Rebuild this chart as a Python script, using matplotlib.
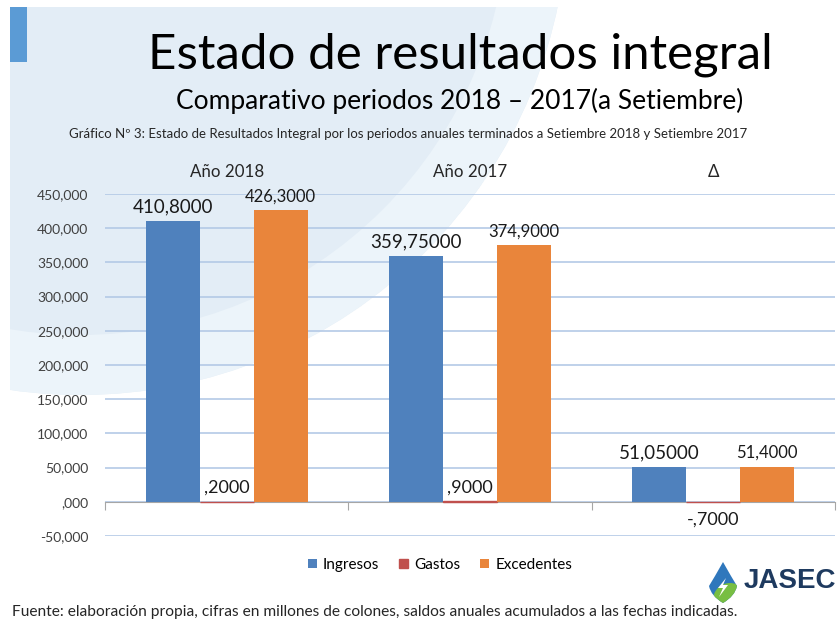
import numpy as np
import matplotlib
matplotlib.use('Agg')
import matplotlib.pyplot as plt
import matplotlib.patches as mpatches
from matplotlib.path import Path
from matplotlib.ticker import FuncFormatter, MultipleLocator

# data (montos, misma escala que el eje)
groups = ['Año 2018', 'Año 2017', 'Δ']
series = ['Ingresos', 'Gastos', 'Excedentes']
ingresos = [410800, 359750, 51050]
gastos = [200, 900, -700]
excedentes = [426300, 374900, 51400]

colors = ['#4F81BD', '#C0504D', '#E9853B']
title = 'Estado de resultados integral'
subtitle = 'Comparativo periodos 2018 – 2017(a Setiembre)'
caption = ('Gráfico Nº 3: Estado de Resultados Integral por los periodos anuales '
           'terminados a Setiembre 2018 y Setiembre 2017')
footnote = ('Fuente: elaboración propia, cifras en millones de colones, '
            'saldos anuales acumulados a las fechas indicadas.')

FONT = ['Lato', 'DejaVu Sans']


def label_fmt(v):
    # etiquetas tal como aparecen en la lámina original
    s = f"{v / 1000:g}".replace('.', ',')
    if abs(v) < 1000:
        s = s.replace('0', '', 1)
    return s + '000'


def ytick_fmt(v, _):
    if v == 0:
        return ',000'
    return f"{v:,.0f}"


W, H = 840, 623
fig = plt.figure(figsize=(W / 100, H / 100), dpi=100)

# fondo de la lámina
bg = fig.add_axes([0, 0, 1, 1], zorder=0)
bg.set_xlim(0, W)
bg.set_ylim(H, 0)
bg.axis('off')
clip = mpatches.Rectangle((10, 7), W, H, transform=bg.transData, visible=False)
bg.add_patch(clip)
circ = mpatches.Circle((80, -93), 488, color='#E3EDF6', lw=0)
bg.add_patch(circ)
circ.set_clip_path(clip)
band = mpatches.Wedge((80, -93), 488, 0, 180, width=60, color='#ECF4FA', lw=0)
bg.add_patch(band)
band.set_clip_path(clip)
bg.add_patch(mpatches.Rectangle((10, 7), 17, 55, color='#5B9BD5', lw=0))

# logo JASEC
drop = Path([(723, 562), (732, 578), (737, 586), (735, 596), (723, 603),
             (711, 596), (709, 586), (714, 578), (723, 562)],
            [Path.MOVETO, Path.CURVE3, Path.CURVE3, Path.CURVE3, Path.CURVE3,
             Path.CURVE3, Path.CURVE3, Path.CURVE3, Path.CURVE3])
dp = mpatches.PathPatch(drop, fc='#2F77BC', lw=0)
bg.add_patch(dp)
green = mpatches.Circle((730, 600), 17, fc='#78BE43', lw=0)
bg.add_patch(green)
green.set_clip_path(dp)
bg.add_patch(mpatches.Polygon([(726, 578), (718, 588), (723, 588), (719, 597),
                               (728, 585), (723, 585)], fc='white', lw=0))
bg.text(744, 581, 'JASEC', fontsize=20, fontweight='bold', color='#1E3A5F',
        family=['Liberation Sans', 'DejaVu Sans'], va='center', ha='left')

# textos de la lámina
fig.text(460 / W, 1 - 55 / H, title, fontsize=35.5, ha='center', va='center',
         family=FONT, color='black')
fig.text(460 / W, 1 - 101 / H, subtitle, fontsize=19, ha='center', va='center',
         family=FONT, color='black')
fig.text(408 / W, 1 - 134 / H, caption, fontsize=9.5, ha='center', va='center',
         family=FONT, color='#262626')
fig.text(12 / W, 1 - 612 / H, footnote, fontsize=11.2, ha='left', va='center',
         family=FONT, color='#262626')

# gráfico
ax = fig.add_axes([105 / W, 1 - 536 / H, 730 / W, 342 / H], zorder=2)
ax.patch.set_alpha(0)
x = np.arange(len(groups))
bw = 0.222
data = [ingresos, gastos, excedentes]
bars = []
for i, (vals, c, name) in enumerate(zip(data, colors, series)):
    edge = c if name == 'Gastos' else 'none'
    b = ax.bar(x + (i - 1) * bw, vals, bw, color=c, label=name, zorder=3,
               edgecolor=edge, linewidth=1.0)
    bars.append(b)

ax.set_xlim(-0.5, 2.5)
ax.set_ylim(-50000, 450000)
ax.yaxis.set_major_locator(MultipleLocator(50000))
ax.yaxis.set_major_formatter(FuncFormatter(ytick_fmt))
ax.grid(axis='y', color='#B4C9E6', lw=1.2, zorder=0)
ax.set_axisbelow(True)
for s in ['left', 'right', 'top']:
    ax.spines[s].set_visible(False)
ax.spines['bottom'].set_position(('data', 0))
ax.spines['bottom'].set_color('#A6A6A6')
ax.spines['bottom'].set_zorder(2)
ax.set_xticks([-0.5, 0.5, 1.5, 2.5])
ax.set_xticklabels([])
ax.tick_params(axis='x', direction='out', length=6, color='#A6A6A6')
ax.tick_params(axis='y', length=0, pad=12, labelsize=10, labelcolor='#404040')
for lab in ax.get_yticklabels():
    lab.set_family(FONT)

for xi, g in zip(x, groups):
    ax.text(xi, 1.065, g, transform=ax.get_xaxis_transform(), ha='center',
            va='center', fontsize=12.2, family=FONT, color='#262626')

sizes = [13.5, 13, 12]
for b, fs in zip(bars, sizes):
    for rect in b:
        v = rect.get_height()
        xc = rect.get_x() + rect.get_width() / 2
        if v >= 0:
            ax.annotate(label_fmt(v), (xc, v), xytext=(0, 4),
                        textcoords='offset points', ha='center', va='bottom',
                        fontsize=fs, family=FONT, color='#1A1A1A')
        else:
            ax.annotate(label_fmt(v), (xc, v), xytext=(0, -7),
                        textcoords='offset points', ha='center', va='top',
                        fontsize=fs, family=FONT, color='#1A1A1A')

leg = fig.legend(loc='center', bbox_to_anchor=(440 / W, 1 - 565 / H), ncol=3,
                 frameon=False, handlelength=0.6, handleheight=0.6,
                 handletextpad=0.4, columnspacing=1.3,
                 prop={'family': FONT, 'size': 11})

fig.savefig('out.png', dpi=100)
